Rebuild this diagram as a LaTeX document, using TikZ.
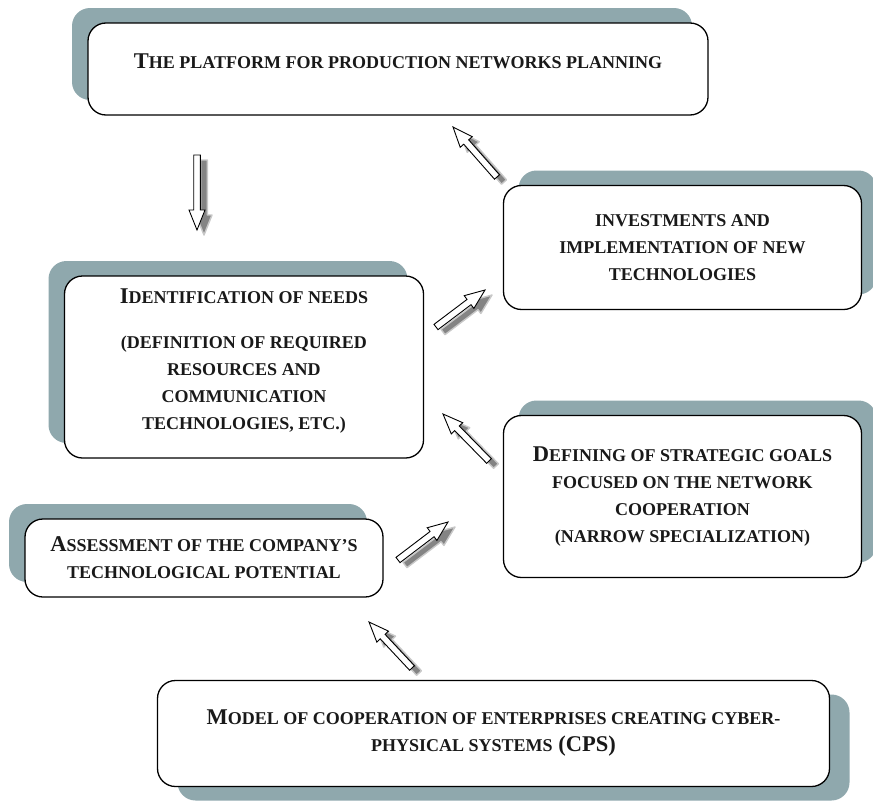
\documentclass[tikz,border=0pt]{standalone}
\usepackage{fontspec}
\setmainfont{Liberation Serif}
\usetikzlibrary{calc,shadows}

\definecolor{boxshade}{RGB}{143,168,173}
\definecolor{arrowgray}{RGB}{132,132,132}

% small-capitals size used inside the boxes
\newcommand\smc[1]{{\fontsize{18}{27}\selectfont #1}}

% hollow block arrow outline from #2 (tail) to #3 (tip)
\newcommand\arrowpoly[3]{%
  \coordinate (hb) at ($(#3)!20pt!(#2)$);
  \path[#1] ($(#2)!3.3pt!90:(#3)$) -- ($(hb)!3.3pt!90:(#3)$) -- ($(hb)!8pt!90:(#3)$)
    -- (#3) -- ($(hb)!8pt!-90:(#3)$) -- ($(hb)!3.3pt!-90:(#3)$) -- ($(#2)!3.3pt!-90:(#3)$) -- cycle;
}
% block arrow with its grey drop shadow
\newcommand\blockarrow[2]{%
  \coordinate (st) at ($(#1)+(7pt,-5pt)$);
  \coordinate (sp) at ($(#2)+(7pt,-5pt)$);
  \arrowpoly{arrowshadow}{st}{sp}
  \arrowpoly{arrowbody}{#1}{#2}
}

\tikzset{
  x=1pt, y=1pt,
  box/.style={draw=black, line width=1.3pt, fill=white, rounded corners=18pt,
    align=center, inner sep=0pt, text=black!90,
    font=\bfseries\fontsize{22.5}{27}\selectfont},
  shade ul/.style={general shadow={fill=boxshade, shadow xshift=-16pt, shadow yshift=15pt}},
  shade ur/.style={general shadow={fill=boxshade, shadow xshift=15pt, shadow yshift=15pt}},
  shade dr/.style={general shadow={fill=boxshade, shadow xshift=20pt, shadow yshift=-14pt}},
  arrowbody/.style={draw=black, line width=0.9pt, fill=white, line join=miter},
  arrowshadow/.style={fill=arrowgray, draw=arrowgray!45, line width=1.4pt, line join=round},
}

\begin{document}
\begin{tikzpicture}
\useasboundingbox (0,0) rectangle (873,-803);

% boxes
\node[box, shade ul, minimum width=620pt, minimum height=92pt, text depth=15pt] (plat) at (398,-69)
  {T\smc{HE PLATFORM FOR PRODUCTION NETWORKS PLANNING}};

\node[box, shade ur, minimum width=358pt, minimum height=124pt] (invest) at (682.5,-247.5)
  {\smc{INVESTMENTS AND}\\ \smc{IMPLEMENTATION OF NEW}\\ \smc{TECHNOLOGIES}};

\node[box, shade ul, minimum width=359pt, minimum height=182pt] (ident) at (244,-367)
  {I\smc{DENTIFICATION OF NEEDS}\\[18pt] \smc{(DEFINITION OF REQUIRED}\\ \smc{RESOURCES AND}\\
   \smc{COMMUNICATION}\\ \smc{TECHNOLOGIES, ETC.)}\\[-11pt]\mbox{}};

\node[box, shade ur, minimum width=358pt, minimum height=162pt] (goals) at (682.5,-496.5)
  {D\smc{EFINING OF STRATEGIC GOALS}\\ \smc{FOCUSED ON THE NETWORK}\\ \smc{COOPERATION}\\
   \smc{(NARROW SPECIALIZATION)}};

\node[box, shade ul, minimum width=358pt, minimum height=78pt] (assess) at (204,-558)
  {A\smc{SSESSMENT OF THE COMPANY'S}\\ \smc{TECHNOLOGICAL POTENTIAL}};

\node[box, shade dr, minimum width=672pt, minimum height=106pt] (model) at (493.5,-733.5)
  {M\smc{ODEL OF COOPERATION OF ENTERPRISES CREATING CYBER-}\\ \smc{PHYSICAL SYSTEMS} (CPS)};

% arrow end points
\coordinate (a1t) at (197,-155);  \coordinate (a1h) at (197,-230);
\coordinate (a2t) at (497,-177);  \coordinate (a2h) at (453,-127);
\coordinate (a3t) at (436,-327);  \coordinate (a3h) at (485,-290);
\coordinate (a4t) at (489,-461);  \coordinate (a4h) at (443,-414);
\coordinate (a5t) at (398,-560);  \coordinate (a5h) at (448,-522);
\coordinate (a6t) at (412,-668);  \coordinate (a6h) at (369,-622);

\blockarrow{a1t}{a1h}
\blockarrow{a2t}{a2h}
\blockarrow{a3t}{a3h}
\blockarrow{a4t}{a4h}
\blockarrow{a5t}{a5h}
\blockarrow{a6t}{a6h}
\end{tikzpicture}
\end{document}
